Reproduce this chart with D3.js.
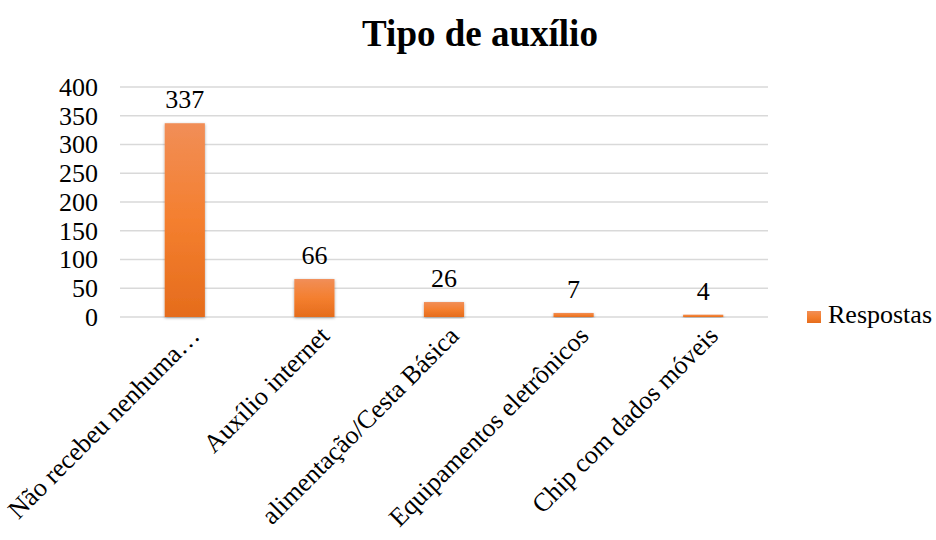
<!DOCTYPE html>
<html>
<head>
<meta charset="utf-8">
<script src="https://cdn.jsdelivr.net/npm/d3@7"></script>
<style>
  body { margin: 0; background: #fff; }
  svg { font-family: "Liberation Serif", "Times New Roman", serif; }
</style>
</head>
<body>
<svg class="canvas" width="936" height="540"></svg>
<script>
// visible text of the third label is what fits in the picture
const categories = [
  "Não recebeu nenhuma…",
  "Auxílio internet",
  "alimentação/Cesta Básica",
  "Equipamentos eletrônicos",
  "Chip com dados móveis"
];
const respostas = [337, 66, 26, 7, 4];
const yTicks = [0, 50, 100, 150, 200, 250, 300, 350, 400];

const svg = d3.select(".canvas");
const margin = { left: 120, right: 168, top: 87, bottom: 223 };
const width = 936, height = 540;
const fontSize = "26px";

const x = d3.scaleBand()
  .domain(categories)
  .range([margin.left, width - margin.right])
  .paddingInner(0.69)
  .paddingOuter(0.345);

const y = d3.scaleLinear()
  .domain([0, 400])
  .range([height - margin.bottom, margin.top]);

const defs = svg.append("defs");
const grad = defs.append("linearGradient")
  .attr("id", "barGrad")
  .attr("x1", 0).attr("y1", 0).attr("x2", 0).attr("y2", 1);
grad.append("stop").attr("offset", "0%").attr("stop-color", "#f18e57");
grad.append("stop").attr("offset", "50%").attr("stop-color", "#f47f2f");
grad.append("stop").attr("offset", "100%").attr("stop-color", "#e56c1c");

const shadow = defs.append("filter")
  .attr("id", "shadow")
  .attr("x", "-30%").attr("y", "-10%")
  .attr("width", "160%").attr("height", "120%");
shadow.append("feDropShadow")
  .attr("dx", 0).attr("dy", 1)
  .attr("stdDeviation", 1.6)
  .attr("flood-color", "#000")
  .attr("flood-opacity", 0.35);

// title
svg.append("text")
  .attr("x", 480)
  .attr("y", 46)
  .attr("text-anchor", "middle")
  .style("font-size", "37px")
  .style("font-weight", "bold")
  .text("Tipo de auxílio");

// gridlines
svg.append("g")
  .selectAll("line")
  .data(yTicks)
  .enter()
  .append("line")
  .attr("x1", margin.left)
  .attr("x2", width - margin.right)
  .attr("y1", d => y(d))
  .attr("y2", d => y(d))
  .attr("stroke", "#d9d9d9")
  .attr("stroke-width", 1.3);

// y axis
const yAxis = svg.append("g")
  .attr("transform", `translate(${margin.left - 22},0)`)
  .call(d3.axisLeft(y).tickValues(yTicks).tickSize(0).tickPadding(0));
yAxis.select(".domain").remove();
yAxis.selectAll("text")
  .attr("fill", "#000")
  .style("font-family", "'Liberation Serif', serif")
  .style("font-size", fontSize);

// bars
svg.append("g")
  .selectAll("rect")
  .data(respostas)
  .enter()
  .append("rect")
  .attr("x", (d, i) => x(categories[i]))
  .attr("y", d => y(d))
  .attr("width", x.bandwidth())
  .attr("height", d => y(0) - y(d))
  .attr("fill", "url(#barGrad)")
  .attr("filter", "url(#shadow)");

// value labels
svg.append("g")
  .selectAll("text")
  .data(respostas)
  .enter()
  .append("text")
  .attr("x", (d, i) => x(categories[i]) + x.bandwidth() / 2)
  .attr("y", d => y(d) - 15)
  .attr("text-anchor", "middle")
  .style("font-size", fontSize)
  .text(d => d);

// x axis
const xAxis = svg.append("g")
  .attr("transform", `translate(0,${y(0)})`)
  .call(d3.axisBottom(x).tickSize(0).tickPadding(0));
xAxis.select(".domain").remove();
xAxis.selectAll("text")
  .attr("fill", "#000")
  .style("font-family", "'Liberation Serif', serif")
  .style("font-size", fontSize)
  .attr("text-anchor", "end")
  .attr("transform", "translate(10,14) rotate(-45)")
  .attr("dy", "0.35em");

// legend
const legend = svg.append("g").attr("transform", "translate(807,311)");
legend.append("rect")
  .attr("width", 14).attr("height", 12)
  .attr("fill", "url(#barGrad)");
legend.append("text")
  .attr("x", 21)
  .attr("y", 12)
  .style("font-size", fontSize)
  .text("Respostas");
</script>
</body>
</html>
